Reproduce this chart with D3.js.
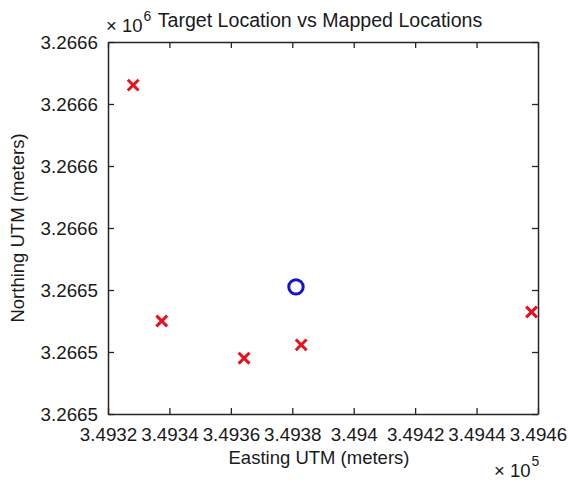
<!DOCTYPE html>
<html>
<head>
<meta charset="utf-8">
<script src="https://cdn.jsdelivr.net/npm/d3@7"></script>
<style>
  html, body { margin: 0; padding: 0; background: #fff; }
  svg text { font-family: "Liberation Sans", Arial, Helvetica, sans-serif; fill: #1a1a1a; }
</style>
</head>
<body>
<svg id="chart" width="569" height="483"></svg>
<script>
// UTM coordinates in metres
const targetEasting = [349381.2];
const targetNorthing = [3266541.0];

const mappedEasting = [349328.2, 349337.5, 349364.3, 349382.9, 349457.9];
const mappedNorthing = [3266606.1, 3266530.0, 3266518.0, 3266522.3, 3266532.9];

// Axis ticks and their labels (scaled by 10^5 and 10^6)
const xTicks = [349320, 349340, 349360, 349380, 349400, 349420, 349440, 349460];
const xTickLabels = ["3.4932", "3.4934", "3.4936", "3.4938", "3.494", "3.4942", "3.4944", "3.4946"];
const yTicks = [3266500, 3266520, 3266540, 3266560, 3266580, 3266600, 3266620];
const yTickLabels = ["3.2665", "3.2665", "3.2665", "3.2666", "3.2666", "3.2666", "3.2666"];

const titleText = "Target Location vs Mapped Locations";
const xLabelText = "Easting UTM (meters)";
const yLabelText = "Northing UTM (meters)";

const svg = d3.select("#chart");
const plot = { left: 108, right: 538, top: 42, bottom: 414 };

const x = d3.scaleLinear().domain([xTicks[0], xTicks[xTicks.length - 1]]).range([plot.left, plot.right]);
const y = d3.scaleLinear().domain([yTicks[0], yTicks[yTicks.length - 1]]).range([plot.bottom, plot.top]);

const axisColor = "#262626";
const fontSize = 18.8;

function styleAxis(g) {
  g.selectAll(".domain").attr("stroke", axisColor).attr("stroke-width", 1.5);
  g.selectAll(".tick line").attr("stroke", axisColor).attr("stroke-width", 1.3);
  g.selectAll(".tick text")
    .attr("font-size", fontSize)
    .attr("font-family", "Liberation Sans, Arial, sans-serif")
    .attr("fill", "#1a1a1a");
}

// bottom axis with labels, ticks pointing inward
svg.append("g")
  .attr("transform", `translate(0,${plot.bottom})`)
  .call(d3.axisBottom(x).tickValues(xTicks).tickSizeInner(-6).tickSizeOuter(0)
    .tickFormat((d, i) => xTickLabels[i]))
  .call(styleAxis)
  .call(g => g.selectAll(".tick text").attr("dy", null).attr("y", 27));

// left axis with labels
svg.append("g")
  .attr("transform", `translate(${plot.left},0)`)
  .call(d3.axisLeft(y).tickValues(yTicks).tickSizeInner(-6).tickSizeOuter(0)
    .tickFormat((d, i) => yTickLabels[i]))
  .call(styleAxis)
  .call(g => g.selectAll(".tick text").attr("x", -10));

// top and right axes, ticks only
svg.append("g")
  .attr("transform", `translate(0,${plot.top})`)
  .call(d3.axisTop(x).tickValues(xTicks).tickSizeInner(-6).tickSizeOuter(0).tickFormat(""))
  .call(styleAxis);

svg.append("g")
  .attr("transform", `translate(${plot.right},0)`)
  .call(d3.axisRight(y).tickValues(yTicks).tickSizeInner(-6).tickSizeOuter(0).tickFormat(""))
  .call(styleAxis);

// target location: blue circle
svg.append("g").selectAll("circle")
  .data(d3.zip(targetEasting, targetNorthing))
  .join("circle")
  .attr("cx", d => x(d[0]))
  .attr("cy", d => y(d[1]))
  .attr("r", 7.2)
  .attr("fill", "none")
  .attr("stroke", "#1414c8")
  .attr("stroke-width", 3);

// mapped locations: red crosses
const h = 5.4;
svg.append("g").selectAll("path")
  .data(d3.zip(mappedEasting, mappedNorthing))
  .join("path")
  .attr("d", d => {
    const cx = x(d[0]), cy = y(d[1]);
    return `M${cx - h},${cy - h}L${cx + h},${cy + h}M${cx - h},${cy + h}L${cx + h},${cy - h}`;
  })
  .attr("fill", "none")
  .attr("stroke", "#e8101c")
  .attr("stroke-width", 3);

// title
svg.append("text")
  .attr("x", 320)
  .attr("y", 27)
  .attr("text-anchor", "middle")
  .attr("font-size", 19.6)
  .text(titleText);

// axis labels
svg.append("text")
  .attr("x", (plot.left + plot.right) / 2 - 4)
  .attr("y", 464)
  .attr("text-anchor", "middle")
  .attr("font-size", 18.5)
  .text(xLabelText);

svg.append("text")
  .attr("transform", `translate(24,${(plot.top + plot.bottom) / 2}) rotate(-90)`)
  .attr("text-anchor", "middle")
  .attr("font-size", 18.5)
  .text(yLabelText);

// exponent multipliers
function multiplier(px, py, exp) {
  const t = svg.append("text").attr("x", px).attr("y", py).attr("font-size", 18.5);
  t.append("tspan").text("× 10");
  t.append("tspan").attr("dy", -11).attr("dx", 1).attr("font-size", 14).text(exp);
}
multiplier(106, 32, "6");
multiplier(494, 477, "5");
</script>
</body>
</html>
